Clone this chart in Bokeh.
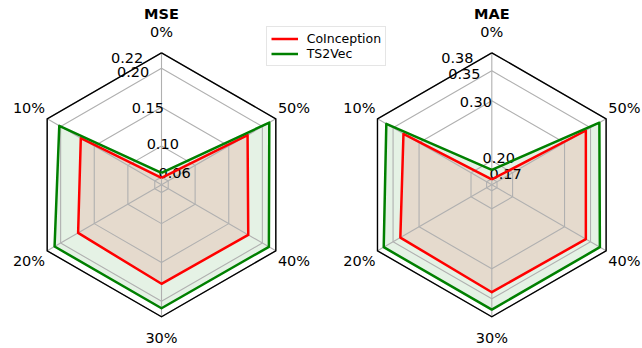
import numpy as np
from bokeh.plotting import figure
from bokeh.models import Range1d, Legend, LegendItem
from bokeh.core.properties import value
from bokeh.embed import file_html
from bokeh.resources import INLINE

# Missing-ratio categories, counter-clockwise from the top spoke
categories = ["0%", "10%", "20%", "30%", "40%", "50%"]

# MSE per missing ratio
mse_coinception = [0.059, 0.170, 0.174, 0.1775, 0.179, 0.178]
mse_ts2vec = [0.0655, 0.202, 0.209, 0.209, 0.2097, 0.2103]
mse_ticks = [0.06, 0.10, 0.15, 0.20, 0.22]
mse_tick_labels = ["0.06", "0.10", "0.15", "0.20", "0.22"]
mse_limits = (0.05, 0.22)

# MAE per missing ratio
mae_coinception = [0.169, 0.330, 0.336, 0.339, 0.341, 0.341]
mae_ts2vec = [0.185, 0.363, 0.368, 0.368, 0.368, 0.367]
mae_ticks = [0.17, 0.20, 0.30, 0.35, 0.38]
mae_tick_labels = ["0.17", "0.20", "0.30", "0.35", "0.38"]
mae_limits = (0.16, 0.38)

series_names = ["CoInception", "TS2Vec"]
series_colors = ["red", "green"]

W, H = 642, 348
FONT = value("DejaVu Sans")
R = 132.0          # radius of the outer polygon frame
CY = 163.7         # vertical centre of both radars
LABEL_PAD = 21.0   # gap between frame and category labels
RLABEL_ANGLE = np.deg2rad(90 + 22.5)

p = figure(width=W, height=H, x_range=Range1d(0, W), y_range=Range1d(0, H),
           output_backend="svg", toolbar_location=None, min_border=0,
           x_axis_location=None, y_axis_location=None)
p.grid.visible = False
p.outline_line_color = None
p.background_fill_color = "white"
p.border_fill_color = "white"

n = len(categories)
theta = np.pi / 2 + 2 * np.pi * np.arange(n) / n

panels = [
    ("MSE", 161.0, mse_ticks, mse_tick_labels, mse_limits, [mse_coinception, mse_ts2vec]),
    ("MAE", 491.3, mae_ticks, mae_tick_labels, mae_limits, [mae_coinception, mae_ts2vec]),
]

legend_renderers = []
for title, cx, ticks, tick_labels, (lo, hi), series in panels:
    def to_xy(vals, closed=True):
        r = (np.asarray(vals, dtype=float) - lo) / (hi - lo) * R
        x = cx + r * np.cos(theta)
        y = CY + r * np.sin(theta)
        if closed:
            x = np.append(x, x[0])
            y = np.append(y, y[0])
        return list(x), list(y)

    # filled areas
    for vals, color in zip(series, series_colors):
        x, y = to_xy(vals, closed=False)
        p.patch(x, y, fill_color=color, fill_alpha=0.1, line_color=None)

    # polygon grid rings and spokes
    ring_xs, ring_ys = [], []
    for t in ticks:
        x, y = to_xy([t] * n)
        ring_xs.append(x)
        ring_ys.append(y)
    p.multi_line(ring_xs, ring_ys, line_color="#b0b0b0", line_width=1.1)
    p.segment(x0=[cx] * n, y0=[CY] * n,
              x1=list(cx + R * np.cos(theta)), y1=list(CY + R * np.sin(theta)),
              line_color="#b0b0b0", line_width=1.1)

    # radial tick labels
    tr = (np.asarray(ticks) - lo) / (hi - lo) * R
    p.text(x=list(cx + tr * np.cos(RLABEL_ANGLE)), y=list(CY + tr * np.sin(RLABEL_ANGLE)),
           text=tick_labels, text_font=FONT, text_font_size="14.5px",
           text_align="left", text_baseline="bottom", text_color="black")

    # series outlines
    rends = []
    for vals, color in zip(series, series_colors):
        x, y = to_xy(vals)
        rends.append(p.line(x, y, line_color=color, line_width=2.5, line_join="round"))
    if not legend_renderers:
        legend_renderers = rends

    # outer frame
    fx, fy = to_xy([hi] * n)
    p.line(fx, fy, line_color="black", line_width=1.4, line_join="miter")

    # category labels
    p.text(x=list(cx + (R + LABEL_PAD) * np.cos(theta)), y=list(CY + (R + LABEL_PAD) * np.sin(theta)),
           text=categories, text_font=FONT, text_font_size="14.5px",
           text_align="center", text_baseline="middle", text_color="black")

    # panel title
    p.text(x=[cx], y=[CY + R + 38.5], text=[title], text_font=FONT, text_font_size="14.5px",
           text_font_style="bold", text_align="center", text_baseline="middle", text_color="black")

legend = Legend(
    items=[LegendItem(label=name, renderers=[r]) for name, r in zip(series_names, legend_renderers)],
    location=(265.7, 282.3), margin=0, padding=4, spacing=0,
    label_standoff=9, glyph_width=27, glyph_height=13, label_height=13,
    label_text_font="DejaVu Sans", label_text_font_size="12.5px", label_text_color="black",
    border_line_color="#cccccc", border_line_width=1,
    background_fill_color="white", background_fill_alpha=0.8,
)
p.add_layout(legend)

open("out.html", "w").write(file_html(p, INLINE))
